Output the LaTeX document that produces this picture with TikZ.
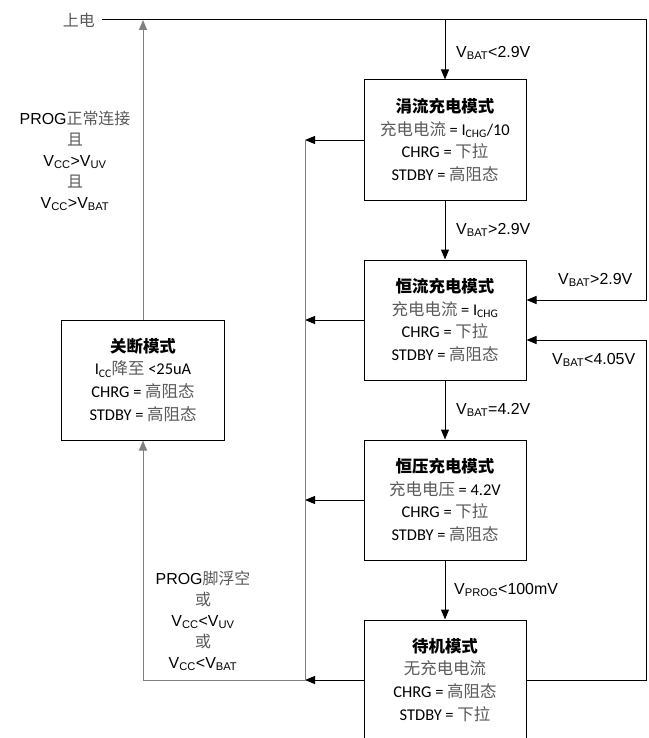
\documentclass[tikz,border=0pt]{standalone}
\usepackage{fontspec}
\setmainfont{Carlito}
\newfontfamily\cjk{Noto Sans CJK SC}
\newfontfamily\arialf{Liberation Sans}
\usetikzlibrary{arrows.meta}
\definecolor{zhgray}{gray}{0.35}
\newcommand{\zh}[1]{{\cjk\color{zhgray}#1}}
\newcommand{\zhb}[1]{{\cjk\bfseries #1}}

\begin{document}
\begin{tikzpicture}[x=1bp,y=-1bp, >={Triangle[length=10bp,width=8bp]},
  mode/.style={draw,line width=1bp,minimum width=162bp,minimum height=120bp,inner sep=0pt,
    align=center,font=\fontsize{16.5}{23}\selectfont},
  cond/.style={inner sep=0pt,align=center,font=\arialf\fontsize{16}{21}\selectfont},
  wire/.style={line width=1bp},
  grey wire/.style={line width=1bp,black!50}]
\useasboundingbox (0,0) rectangle (649,738);
\coordinate (ne) at (646,20);
\coordinate (se) at (646,680);
\coordinate (bus) at (305,140);

\node[cond,anchor=east,inner xsep=7bp] (power) at (102,20) {\zh{上电}};
\node[mode] (trickle) at (445,140) {\zhb{涓流充电模式}\\\zh{充电电流} = I\textsubscript{CHG}/10\\CHRG = \zh{下拉}\\STDBY = \zh{高阻态}};
\node[mode] (cc) at (445,320) {\zhb{恒流充电模式}\\\zh{充电电流} = I\textsubscript{CHG}\\CHRG = \zh{下拉}\\STDBY = \zh{高阻态}};
\node[mode] (cv) at (445,500) {\zhb{恒压充电模式}\\\zh{充电电压} = 4.2V\\CHRG = \zh{下拉}\\STDBY = \zh{高阻态}};
\node[mode] (standby) at (445,680) {\zhb{待机模式}\\\zh{无充电电流}\\CHRG = \zh{高阻态}\\STDBY = \zh{下拉}};
\node[mode] (off) at (143,380) {\zhb{关断模式}\\I\textsubscript{CC}\zh{降至} <25uA\\CHRG = \zh{高阻态}\\STDBY = \zh{高阻态}};

\draw[wire,->] (power.east) -- (ne) |- ([yshift=20bp]cc.east);
\draw[wire,->] (trickle.north |- power) -- (trickle.north);
\draw[wire,->] (trickle) -- (cc);
\draw[wire,->] (cc) -- (cv);
\draw[wire,->] (cv) -- (standby);
\draw[wire,->] (standby.east) -- (se) |- ([yshift=-20bp]cc.east);
\foreach \m in {trickle,cc,cv,standby}
  \draw[wire,->] (\m.west) -- (\m.west -| bus);
\draw[grey wire,->] (bus) -- (standby.west -| bus) -| (off.south);
\draw[grey wire,->] (off.north) -- (off.north |- power);

\node[cond,anchor=west] (lowtrk) at (456,53) {V\textsubscript{BAT}<2.9V};
\node[cond,anchor=west] (tocc) at (456,230) {V\textsubscript{BAT}>2.9V};
\node[cond,anchor=west] (oncc) at (558,280) {V\textsubscript{BAT}>2.9V};
\node[cond,anchor=west] (recharge) at (552,360) {V\textsubscript{BAT}<4.05V};
\node[cond,anchor=west] (tocv) at (456,410) {V\textsubscript{BAT}=4.2V};
\node[cond,anchor=west] (done) at (454,590) {V\textsubscript{PROG}<100mV};
\node[cond] (wake) at (75,161) {PROG\zh{正常连接}\\\zh{且}\\V\textsubscript{CC}>V\textsubscript{UV}\\\zh{且}\\V\textsubscript{CC}>V\textsubscript{BAT}};
\node[cond] (sleep) at (203,621) {PROG\zh{脚浮空}\\\zh{或}\\V\textsubscript{CC}<V\textsubscript{UV}\\\zh{或}\\V\textsubscript{CC}<V\textsubscript{BAT}};
\end{tikzpicture}
\end{document}
